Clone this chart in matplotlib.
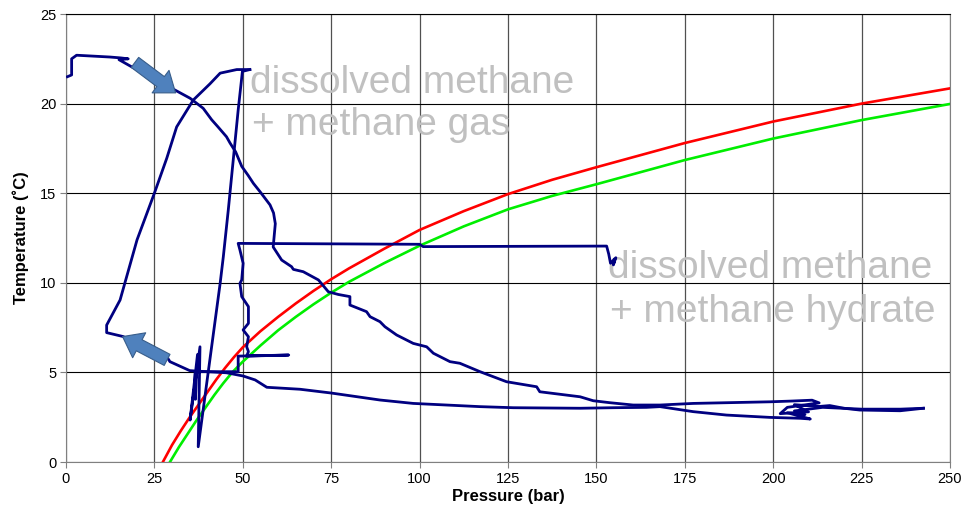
import matplotlib
matplotlib.use("Agg")
import matplotlib.pyplot as plt

plt.rcParams["font.family"] = ["Liberation Sans", "DejaVu Sans"]

# hydrate equilibrium curves
red_p = [27.4, 30, 32.5, 35, 37.5, 40, 42.5, 45, 47.5, 50, 55, 60, 65, 70, 75, 80, 90,
         100, 112.5, 125, 137.5, 150, 175, 200, 225, 250]
red_t = [0, 0.95, 1.75, 2.5, 3.2, 3.9, 4.6, 5.25, 5.85, 6.4, 7.3, 8.1, 8.85, 9.55, 10.2,
         10.8, 11.9, 12.95, 14.0, 14.95, 15.75, 16.45, 17.8, 19.0, 20.0, 20.85]
green_p = [29.4, 32, 34.5, 37, 39.5, 42, 44.5, 47, 50, 55, 60, 65, 70, 75, 80, 90,
           100, 112.5, 125, 137.5, 150, 175, 200, 225, 250]
green_t = [0, 0.85, 1.6, 2.35, 3.05, 3.75, 4.4, 5.0, 5.6, 6.5, 7.35, 8.1, 8.8, 9.45, 10.05,
           11.1, 12.07, 13.15, 14.1, 14.85, 15.5, 16.85, 18.05, 19.08, 19.98]

# measured trajectory, in three pieces
down_p = [0.4, 1.6, 1.6, 3.0, 7.7, 12.4, 15.5, 17.6, 15.0, 18.6, 25.0, 30.8, 35.1, 38.8,
          41.2, 43.0, 45.4, 46.4, 48.0, 49.7, 51.5, 53.0, 54.9, 57.7, 58.7, 59.2, 58.6,
          61.0, 63.8, 64.3, 67.1, 71.4, 74.2, 77.0, 80.3, 80.3, 85.0, 86.0, 88.8, 90.2,
          93.5, 98.2, 102.0, 103.9, 108.6, 111.4, 117.1, 124.6, 133.1, 134.0, 145.4,
          149.1, 153.8, 160.4, 168.0, 177.4, 199.1, 205.0, 211.0, 213.0, 204.0, 202.0,
          210.0, 206.0, 213.0, 216.0, 220.0, 224.5, 235.9, 242.5]
down_t = [21.5, 21.6, 22.5, 22.7, 22.65, 22.6, 22.55, 22.5, 22.45, 22.05, 21.4, 20.76,
          20.3, 19.74, 19.1, 18.7, 18.15, 17.8, 17.3, 16.5, 16.0, 15.55, 15.08, 14.35,
          13.9, 13.3, 12.0, 11.27, 10.9, 10.75, 10.62, 10.16, 9.5, 9.35, 9.23, 8.76, 8.39,
          8.11, 7.83, 7.55, 7.09, 6.62, 6.43, 6.07, 5.6, 5.51, 5.04, 4.48, 4.2, 3.92, 3.64,
          3.42, 3.31, 3.18, 3.18, 3.27, 3.36, 3.4, 3.45, 3.3, 3.05, 2.7, 2.8, 3.2, 3.1,
          3.15, 3.0, 2.9, 2.86, 3.0]

up_p = [242.5, 236.0, 225.0, 214.0, 206.0, 209.0, 204.0, 210.5, 207.6, 199.1, 186.8,
        177.4, 168.0, 164.2, 154.7, 145.4, 126.5, 117.1, 98.2, 88.8, 75.0, 66.2, 56.8,
        53.5, 50.1, 45.4, 36.5, 35.0, 29.4, 28.5, 22.0, 16.2, 11.5, 11.5, 15.3, 20.1, 25.0,
        28.5, 31.3, 36.0, 40.7, 43.6, 48.3, 52.0]
up_t = [3.0, 2.95, 2.95, 3.05, 2.85, 2.65, 2.75, 2.4, 2.44, 2.49, 2.62, 2.81, 3.09, 3.05,
        3.03, 3.0, 3.03, 3.09, 3.27, 3.46, 3.85, 4.06, 4.17, 4.58, 4.8, 4.98, 5.08, 5.1,
        5.6, 5.88, 6.4, 7.0, 7.22, 7.64, 9.04, 12.4, 15.0, 16.95, 18.7, 20.2, 21.1, 21.7,
        21.9, 21.9]

lab_p = [52.0, 49.9, 48.7, 47.3, 45.9, 44.5, 43.6, 41.7, 39.8, 37.4, 37.9, 35.1, 37.2,
         36.6, 36.5, 48.7, 48.7, 63.0, 51.1, 51.6, 51.1, 51.6, 50.1, 51.6, 51.6, 49.7,
         49.2, 49.7, 50.1, 49.2, 48.7, 100.0, 101.0, 152.9, 153.5, 154.0, 155.5, 154.8,
         155.2]
lab_t = [21.9, 21.8, 19.64, 16.85, 14.06, 11.46, 9.97, 7.18, 4.39, 0.85, 6.43, 2.34, 6.0,
         3.5, 5.04, 5.04, 5.91, 5.97, 5.91, 6.16, 6.43, 6.99, 7.37, 7.74, 8.67, 9.23, 9.97,
         10.16, 11.09, 11.83, 12.2, 12.15, 12.02, 12.05, 11.6, 11.09, 11.4, 11.0, 11.3]

# direction arrows (tail -> head)
arrow_tails = [(19.5, 22.3), (28.6, 5.7)]
arrow_heads = [(31.0, 20.6), (16.0, 7.0)]

fig = plt.figure(figsize=(9.66, 5.19), dpi=100)
ax = fig.add_axes([0.0683, 0.1098, 0.9151, 0.8632])

ax.plot(red_p, red_t, color="#ff0000", lw=1.9, zorder=3)
ax.plot(green_p, green_t, color="#00ee00", lw=1.9, zorder=3)
for p, t in ((down_p, down_t), (up_p, up_t), (lab_p, lab_t)):
    ax.plot(p, t, color="#000080", lw=2.0, zorder=4, solid_joinstyle="round")

for tail, head in zip(arrow_tails, arrow_heads):
    ax.annotate("", xy=head, xytext=tail, zorder=5,
                arrowprops=dict(arrowstyle="simple,head_width=1.35,head_length=0.9,tail_width=0.6",
                                fc="#4f81bd", ec="#385d8a", lw=0.8, mutation_scale=15,
                                shrinkA=0, shrinkB=0))

grey = "#c0c0c0"
ax.text(52.0, 20.6, "dissolved methane", fontsize=28, color=grey, va="baseline", zorder=2)
ax.text(52.6, 18.25, "+ methane gas", fontsize=28, color=grey, va="baseline", zorder=2)
ax.text(153.3, 10.27, "dissolved methane", fontsize=28, color=grey, va="baseline", zorder=2)
ax.text(153.8, 7.83, "+ methane hydrate", fontsize=28, color=grey, va="baseline", zorder=2)

ax.set_xlim(0, 250)
ax.set_ylim(0, 25)
ax.set_xticks(range(0, 251, 25))
ax.set_yticks(range(0, 26, 5))
ax.grid(axis="y", color="black", lw=0.8)
ax.grid(axis="x", color="#505050", lw=0.9)
ax.set_axisbelow(True)
ax.tick_params(labelsize=10.5, length=4, width=0.8, color="#808080", pad=3)
for side in ("left", "bottom"):
    ax.spines[side].set_color("#808080")
ax.spines["top"].set_color("black")
ax.spines["top"].set_linewidth(0.8)
ax.spines["right"].set_color("#808080")

ax.set_xlabel("Pressure (bar)", fontsize=12, fontweight="bold", labelpad=2)
ax.set_ylabel("Temperature (˚C)", fontsize=12, fontweight="bold", labelpad=8)

fig.savefig("out.png", dpi=100)
